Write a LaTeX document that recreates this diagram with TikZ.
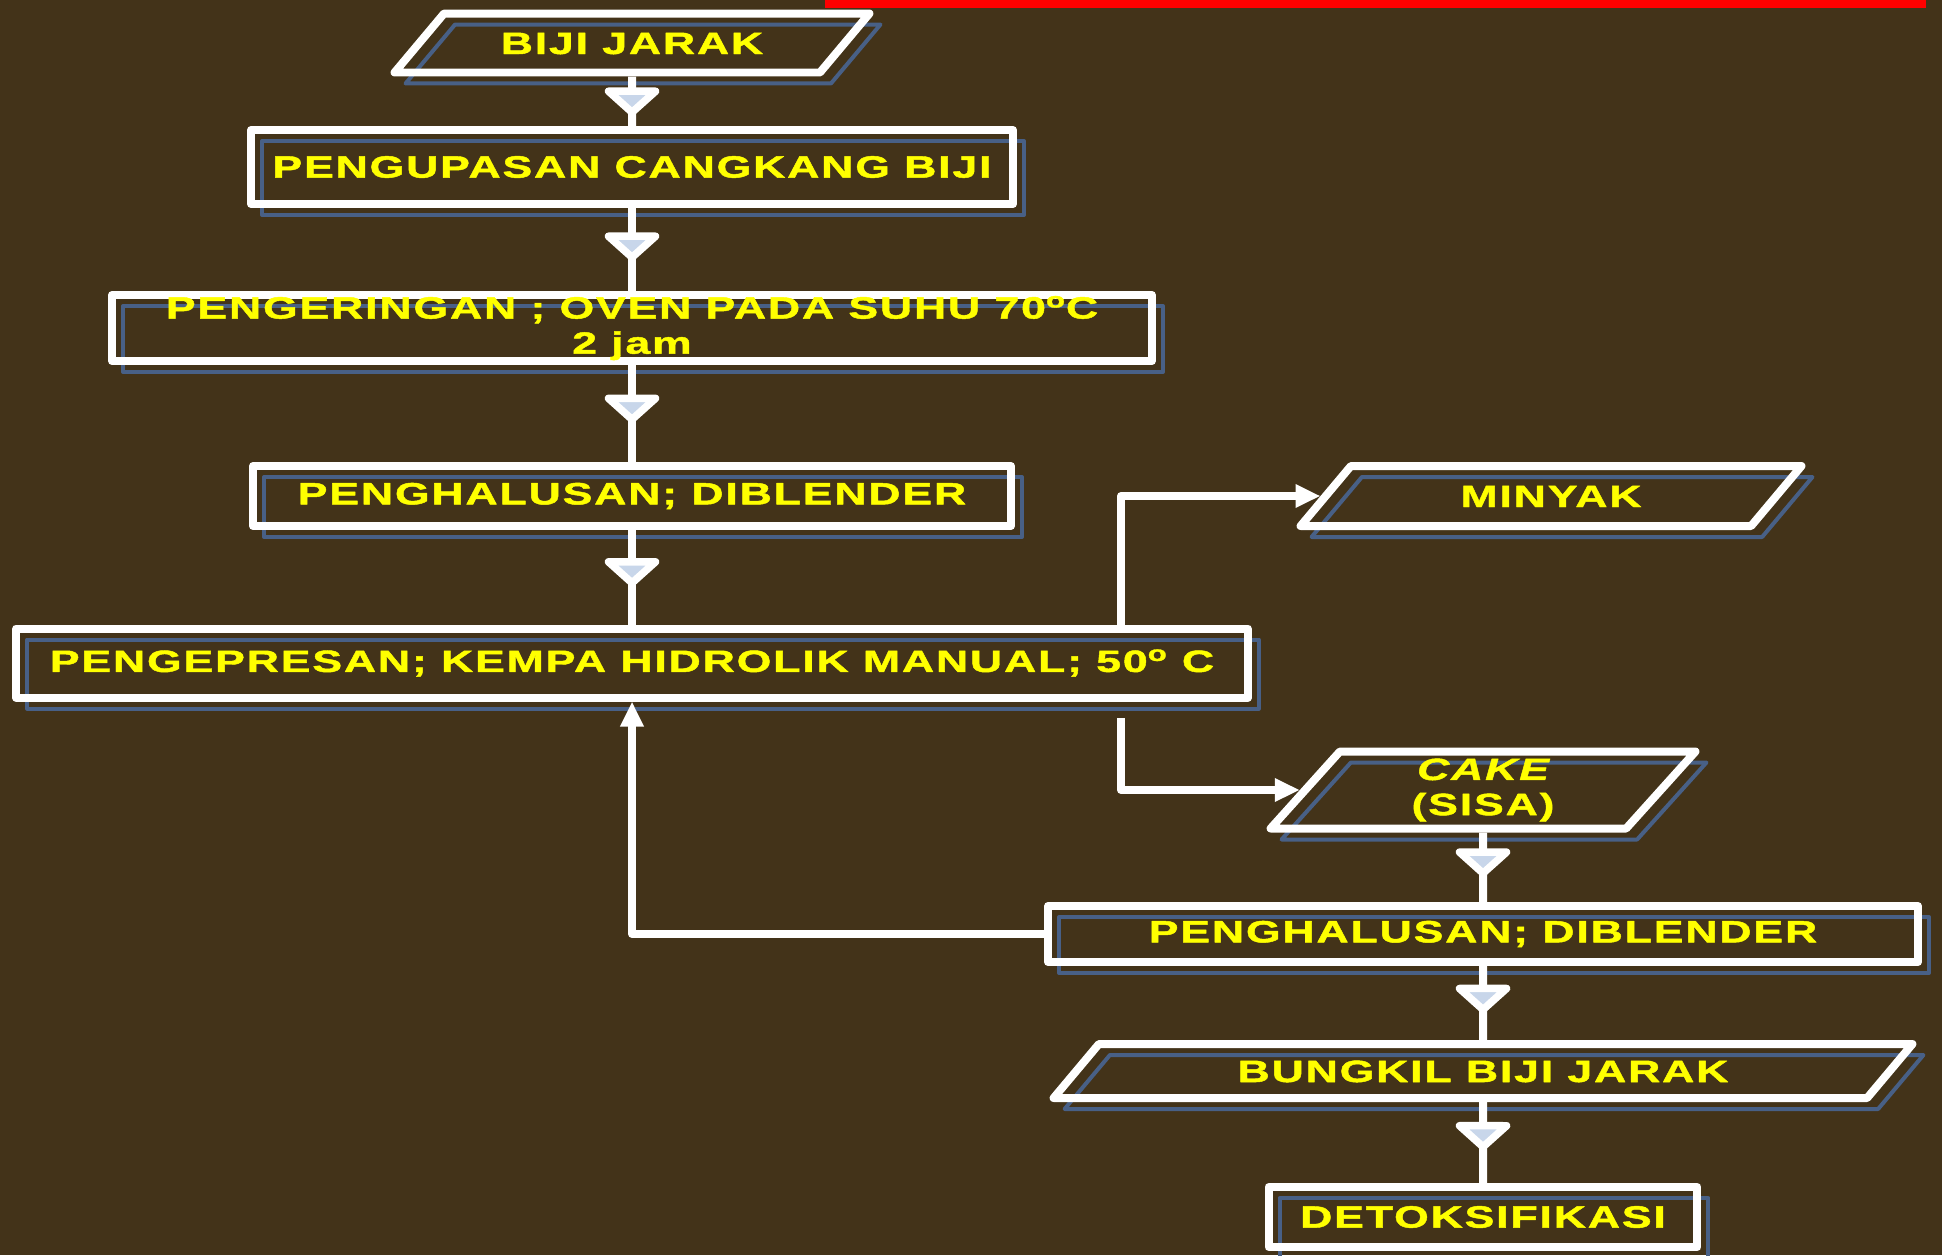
\documentclass[tikz,border=0pt]{standalone}
\usepackage{fontspec}
\setmainfont{Liberation Sans}
\newfontfamily\flowfont{Liberation Sans}[FakeStretch=1.45,LetterSpace=6,FakeBold=1.5]
\usetikzlibrary{arrows.meta,positioning,shapes.geometric,shadows,decorations.markings}
\definecolor{bgbrown}{RGB}{67,51,25}
\definecolor{flowyellow}{RGB}{255,255,0}
\definecolor{tipblue}{RGB}{200,214,234}
\definecolor{shadeblue}{RGB}{72,96,134}
\definecolor{barred}{RGB}{255,0,0}
\tikzset{
  box/.style={draw=white, line width=0.16cm, line join=round, text=flowyellow,
    font=\flowfont\bfseries\fontsize{17.5}{20}\selectfont, align=center, inner sep=0pt,
    general shadow={shadow xshift=0.22cm, shadow yshift=-0.22cm, draw=shadeblue, line width=0.08cm, fill=none}},
  io/.style={box, trapezium, trapezium left angle=50, trapezium right angle=130, trapezium stretches body},
  oneline/.style={text height=0.44cm, text depth=0cm},
  flow/.style={draw=white, line width=0.16cm, postaction={decorate},
    decoration={markings, mark=at position #1 with {\arrow{Triangle[length=0.6cm, width=1.3cm, fill=tipblue, line join=round]}}}},
  flow/.default=0.64,
  branch/.style={draw=white, line width=0.16cm, line join=round, -{Triangle[length=0.5cm, width=0.44cm]}}
}
\begin{document}
\begin{tikzpicture}[x=0.02cm, y=-0.02cm]
  %% Background and top bar
  \fill[bgbrown] (0,0) rectangle (1942,1255);
  \useasboundingbox (0,0) rectangle (1942,1255);
  \fill[barred] (825,0) rectangle (1926,8);

  %% Main column
  \node[io, oneline, inner ysep=0.37cm, minimum width=9.5cm] (biji) at (632,43) {BIJI JARAK};
  \node[box, minimum width=15.24cm, minimum height=1.48cm] (kupas) at (632,167) {PENGUPASAN CANGKANG BIJI};
  \node[box, minimum width=20.8cm, minimum height=1.32cm] (kering) at (632,328) {PENGERINGAN ; OVEN PADA SUHU 70\textsuperscript{o}C\\2 jam};
  \node[box, minimum width=15.16cm, minimum height=1.2cm] (halus1) at (632,496) {PENGHALUSAN; DIBLENDER};
  \node[box, minimum width=24.64cm, minimum height=1.38cm] (press) at (632,663) {PENGEPRESAN; KEMPA HIDROLIK MANUAL; 50\textsuperscript{o} C};

  %% Right column
  \node[io, oneline, inner ysep=0.38cm, minimum width=10.02cm] (minyak) at (1551,496) {MINYAK};
  \node[io, trapezium left angle=48, trapezium right angle=132, inner ysep=0.14cm, minimum width=8.5cm] (cake) at (1483,790) {{\itshape CAKE}\\(SISA)};
  \node[box, minimum width=17.4cm, minimum height=1.12cm] (halus2) at (1483,934) {PENGHALUSAN; DIBLENDER};
  \node[io, oneline, inner ysep=0.32cm, minimum width=17.18cm] (bungkil) at (1483,1071) {BUNGKIL BIJI JARAK};
  \node[box, minimum width=8.58cm, minimum height=1.2cm] (detoks) at (1483,1217) {DETOKSIFIKASI};

  %% Flow arrows
  \draw[flow=0.8] (biji) -- (kupas);
  \draw[flow] (kupas) -- (kering);
  \draw[flow=0.6] (kering) -- (halus1);
  \draw[flow=0.6] (halus1) -- (press);
  \draw[flow] (cake) -- (halus2);
  \draw[flow] (halus2) -- (bungkil);
  \draw[flow=0.6] (bungkil) -- (detoks);

  %% Split and feedback
  \coordinate (split) at (1121,0);
  \coordinate (cakeout) at (1121,718);
  \draw[branch] (press.north -| split) |- (minyak);
  \draw[branch] (cakeout) |- (cake);
  \draw[branch] (halus2) -| (press);
\end{tikzpicture}
\end{document}
